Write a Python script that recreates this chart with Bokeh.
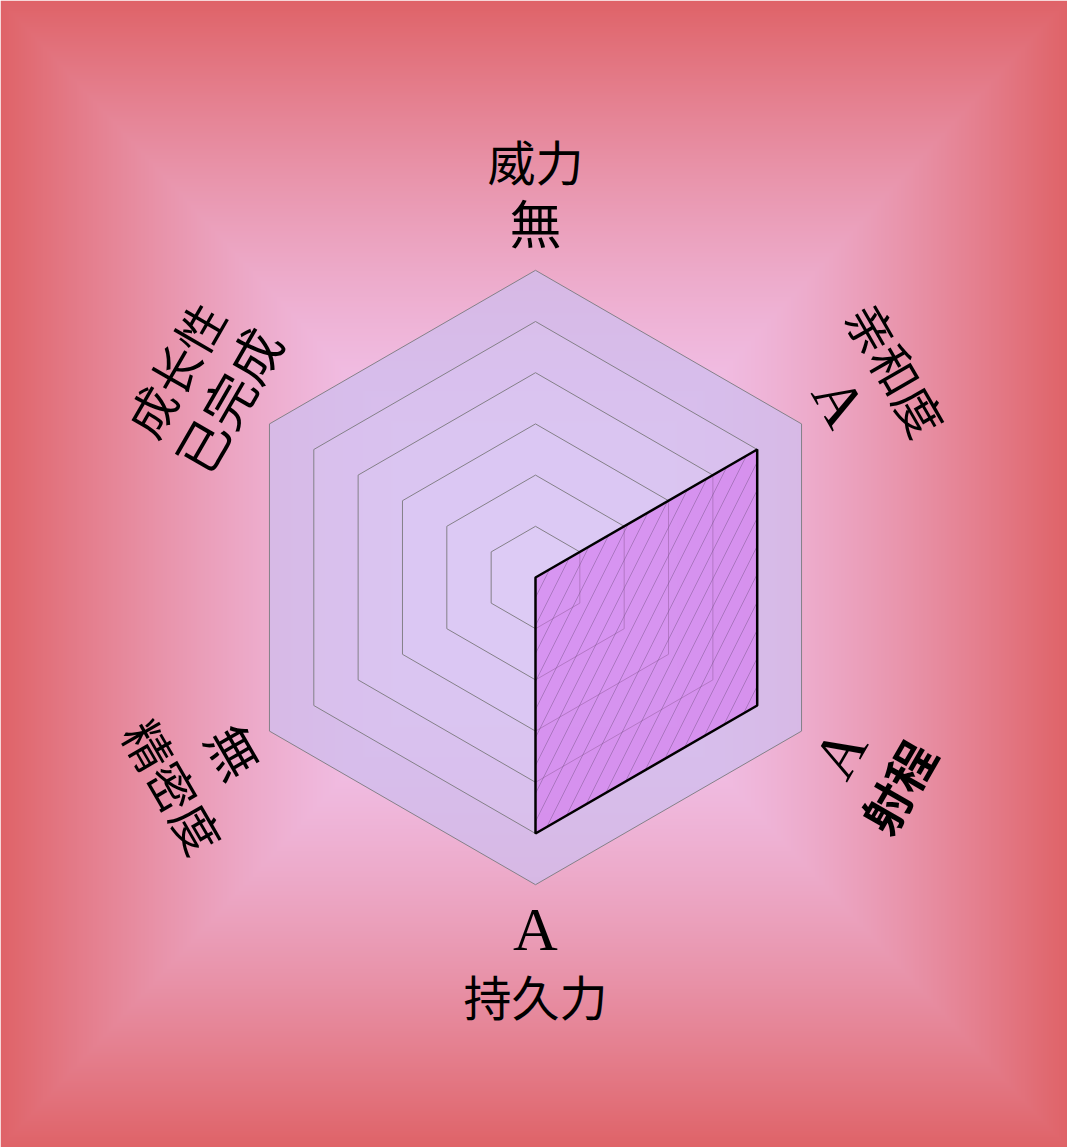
import numpy as np
from bokeh.plotting import figure
from bokeh.models import ColumnDataSource, Range1d, GlobalInlineStyleSheet
from bokeh.core.properties import value
from bokeh.embed import file_html
from bokeh.resources import INLINE

# ---- data ----
stats = ["威力", "亲和度", "射程", "持久力", "精密度", "成长性"]
grades = ["無", "A", "A", "A", "無", "已完成"]
scores = [0, 5, 5, 5, 0, 0]
levels = [1, 2, 3, 4, 5, 6]

# ---- layout constants ----
W, H = 1067, 1147
S = 51.2           # px per unit
CX, CY = 535, 577  # centre in px from top-left

p = figure(width=W, height=H,
           x_range=Range1d(-CX / S, (W - CX) / S),
           y_range=Range1d(-(H - CY) / S, CY / S),
           x_axis_type=None, y_axis_type=None,
           output_backend="svg", toolbar_location=None,
           min_border=0, outline_line_color=None)
p.grid.visible = False
p.stylesheets = [GlobalInlineStyleSheet(css="html,body{margin:0;padding:0;overflow:hidden;}")]

# ---- background: rectangular gradient ----
gw, gh = W // 2, H // 2
gx = np.linspace(-1, 1, gw)[None, :]
gy = np.linspace(-1, 1, gh)[:, None]
d = np.maximum(np.abs(gx), np.abs(gy))
t = np.clip((d - 0.25) / 0.75, 0, 1) ** 1.4
c_in = np.array([241, 193, 233])
c_out = np.array([223, 99, 104])
img = np.empty((gh, gw), dtype=np.uint32)
view = img.view(dtype=np.uint8).reshape((gh, gw, 4))
for i in range(3):
    view[:, :, i] = np.round(c_in[i] + (c_out[i] - c_in[i]) * t).astype(np.uint8)
view[:, :, 3] = 255
p.image_rgba(image=[img], x=-CX / S, y=-(H - CY) / S, dw=W / S, dh=H / S)

# ---- hexagon grid ----
n = len(stats)
theta = np.arange(n) * 2 * np.pi / n  # clockwise from top
sx, sy = np.sin(theta), np.cos(theta)

outer = max(levels)
p.patch(list(outer * sx), list(outer * sy), fill_color=(207, 190, 237), fill_alpha=0.75,
        line_color=None)
inner = sorted([L for L in levels if L < outer], reverse=True)
p.patches([list(L * sx) for L in inner], [list(L * sy) for L in inner],
          fill_color=(228, 214, 255), fill_alpha=0.15, line_color=None)
p.patches([list(L * sx) for L in levels], [list(L * sy) for L in levels],
          fill_color=None, line_color="#848088", line_width=1)

# ---- data polygon ----
sc = np.array(scores, dtype=float)
px, py = list(sc * sx), list(sc * sy)
p.patch(px, py, fill_color=(212, 113, 238), fill_alpha=0.6,
        hatch_pattern="/", hatch_scale=28, hatch_color="#6a4a7a", hatch_alpha=0.5,
        hatch_weight=0.8, line_color=None)
p.patch(px, py, fill_color=None, line_color="black", line_width=2.5)

# ---- labels ----
deg = np.degrees(theta)
rot = np.where((deg > 90) & (deg < 270), np.radians(180 - deg), np.radians(-deg))
r_name, r_val = 8.15, 6.86
name_styles = ["bold" if s == "射程" else "normal" for s in stats]
name_src = ColumnDataSource(dict(x=r_name * sx, y=r_name * sy, t=stats, a=rot, st=name_styles))
val_sizes = ["62px" if g.isascii() else "52px" for g in grades]
val_src = ColumnDataSource(dict(x=r_val * sx, y=r_val * sy, t=grades, a=rot, fs=val_sizes))

p.text(x="x", y="y", text="t", angle="a", source=name_src,
       text_font=value("Noto Sans CJK SC"), text_font_size="48px", text_font_style="st",
       text_align="center", text_baseline="middle", text_color="black")
p.text(x="x", y="y", text="t", angle="a", source=val_src,
       text_font=value("'Liberation Serif', 'Noto Sans CJK SC'"), text_font_size="fs",
       text_align="center", text_baseline="middle", text_color="black")

open("out.html", "w").write(file_html(p, INLINE))
